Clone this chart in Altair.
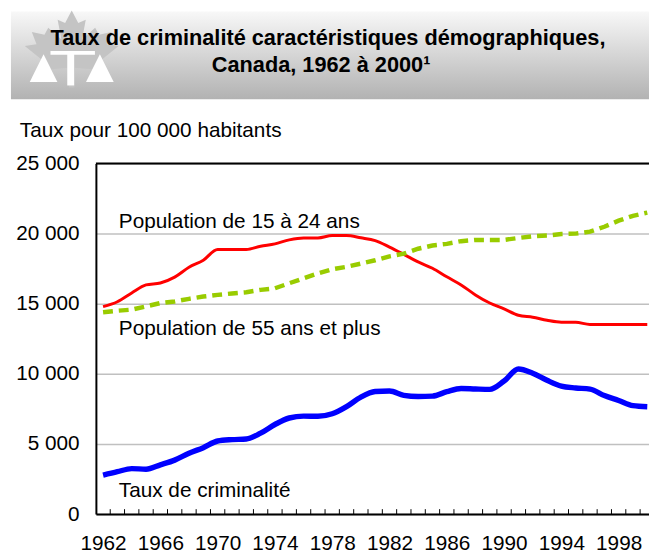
import altair as alt
import pandas as pd

# ---------------- data ----------------
years = list(range(1962, 2001))
crime_rate = [2771, 3022, 3245, 3199, 3511, 3850, 4336, 4737, 5212, 5311,
              5355, 5773, 6388, 6852, 6984, 6971, 7154, 7666, 8343, 8736,
              8773, 8470, 8387, 8413, 8727, 8957, 8919, 8892, 9485, 10342,
              10040, 9538, 9125, 8994, 8914, 8453, 8102, 7733, 7655]
pop_15_24 = [14790, 15140, 15770, 16340, 16480, 16900, 17600, 18100, 18870, 18870,
             18870, 19100, 19270, 19550, 19690, 19690, 19860, 19860, 19700, 19500,
             19040, 18520, 17980, 17530, 16920, 16340, 15630, 15050, 14630, 14180,
             14040, 13820, 13680, 13680, 13520, 13520, 13520, 13520, 13520]
pop_55_plus = [14390, 14500, 14580, 14810, 15050, 15160, 15350, 15510, 15630, 15730,
               15820, 15990, 16100, 16460, 16810, 17160, 17460, 17630, 17860, 18100,
               18380, 18570, 18920, 19150, 19270, 19460, 19550, 19550, 19550, 19690,
               19810, 19860, 19970, 20000, 20140, 20490, 20920, 21270, 21500]
x_label_years = [1962, 1966, 1970, 1974, 1978, 1982, 1986, 1990, 1994, 1998]
y_ticks = [0, 5000, 10000, 15000, 20000, 25000]
title_line1 = "Taux de criminalité caractéristiques démographiques,"
title_line2 = "Canada, 1962 à 2000¹"
y_title = "Taux pour 100 000 habitants"
label_15_24 = "Population de 15 à 24 ans"
label_55 = "Population de 55 ans et plus"
label_crime = "Taux de criminalité"

df = pd.DataFrame({"year": years, "crime": crime_rate,
                   "p15": pop_15_24, "p55": pop_55_plus})
bounds = pd.DataFrame({"year": [y + 0.5 for y in years[:-1]]})

FONT = "Liberation Sans"
TFONT = "Liberation Sans"
FS = 21

xs = alt.Scale(domain=[1961.5, 2000.12], nice=False, zero=False)
ys = alt.Scale(domain=[0, 25000], nice=False)

x_axis = alt.Axis(values=x_label_years, format="d", grid=False, ticks=False, tickSize=0,
                  labelFontSize=FS, labelFont=FONT, labelColor="black",
                  labelPadding=36, labelBaseline="alphabetic",
                  domainColor="black", domainWidth=2, title=None, labelFlush=False,
                  labelOverlap=False)
y_axis = alt.Axis(values=y_ticks, labelExpr="replace(format(datum.value, ','), ',', ' ')",
                  grid=True, gridColor="#c0c0c0", gridWidth=1.5, ticks=False, tickSize=0,
                  labelFontSize=FS, labelFont=FONT, labelColor="black", labelPadding=17,
                  domainColor="black", domainWidth=2, title=None)

base = alt.Chart(df)

red = base.mark_line(color="#ff0000", strokeWidth=3, interpolate="monotone").encode(
    x=alt.X("year:Q", scale=xs, axis=x_axis),
    y=alt.Y("p15:Q", scale=ys, axis=y_axis),
)
green = base.mark_line(color="#99cc00", strokeWidth=4.5, strokeDash=[10, 6]).encode(
    x=alt.X("year:Q", scale=xs),
    y=alt.Y("p55:Q", scale=ys),
)
blue = base.mark_line(color="#0000ff", strokeWidth=5.5, interpolate="monotone").encode(
    x=alt.X("year:Q", scale=xs),
    y=alt.Y("crime:Q", scale=ys),
)

ticks = alt.Chart(bounds).mark_rule(color="black", strokeWidth=1).encode(
    x=alt.X("year:Q", scale=xs),
    y=alt.value(355), y2=alt.value(350),
)

one = alt.Data(values=[{}])

top_border = alt.Chart(one).mark_rule(color="black", strokeWidth=2).encode(
    x=alt.value(0), x2=alt.value(560), y=alt.value(0)
)


def ann(text, xv, yv):
    return alt.Chart(one).mark_text(text=text, font=FONT, fontSize=FS, color="black",
                                    align="left", baseline="alphabetic").encode(
        x=alt.datum(xv, scale=xs), y=alt.datum(yv, scale=ys))


a1 = ann(label_15_24, 1963.1, 20400)
a2 = ann(label_55, 1963.1, 12800)
a3 = ann(label_crime, 1963.1, 1200)

# ---- banner ----
banner = alt.Chart(one).mark_rect(
    color=alt.Gradient(gradient="linear",
                       stops=[alt.GradientStop(color="#f8f8f8", offset=0),
                              alt.GradientStop(color="#b2b2b2", offset=1)],
                       x1=0, x2=0, y1=0, y2=1)
).encode(x=alt.value(-86), x2=alt.value(560), y=alt.value(-154), y2=alt.value(-65))

leaf_path = ("M0,-0.82L0.14,-0.55L0.3,-0.62L0.22,-0.2L0.5,-0.45L0.58,-0.3L0.85,-0.36"
             "L0.75,-0.1L1,-0.06L0.55,0.3L0.62,0.45L0.06,0.4L0.06,0.82L-0.06,0.82"
             "L-0.06,0.4L-0.62,0.45L-0.55,0.3L-1,-0.06L-0.75,-0.1L-0.85,-0.36"
             "L-0.58,-0.3L-0.5,-0.45L-0.22,-0.2L-0.3,-0.62L-0.14,-0.55Z")
leaf = alt.Chart(one).mark_point(shape=leaf_path, filled=True, color="#c4c4c4",
                                 opacity=1, size=9025, strokeWidth=0).encode(
    x=alt.value(-24.5), y=alt.value(-116))

tri_path = "M0,-1L1,1L-1,1Z"
tri_l = alt.Chart(one).mark_point(shape=tri_path, filled=True, color="white", opacity=1,
                                  size=784, strokeWidth=0).encode(
    x=alt.value(-53), y=alt.value(-96.5))
tri_r = alt.Chart(one).mark_point(shape=tri_path, filled=True, color="white", opacity=1,
                                  size=784, strokeWidth=0).encode(
    x=alt.value(4), y=alt.value(-96.5))
t_bar = alt.Chart(one).mark_rect(color="white").encode(
    x=alt.value(-46), x2=alt.value(-1), y=alt.value(-114), y2=alt.value(-110))
t_stem = alt.Chart(one).mark_rect(color="white").encode(
    x=alt.value(-29), x2=alt.value(-22), y=alt.value(-112), y2=alt.value(-79))


def ttext(text, xv, yv):
    return alt.Chart(one).mark_text(text=text, font=TFONT, fontSize=22, fontWeight="bold",
                                    color="black", align="center",
                                    baseline="alphabetic").encode(
        x=alt.value(xv), y=alt.value(yv))


t1 = ttext(title_line1, 235, -120)
t2 = ttext(title_line2, 228, -93)

ytitle = alt.Chart(one).mark_text(text=y_title, font=FONT, fontSize=FS, color="black",
                                  align="left", baseline="alphabetic").encode(
    x=alt.value(-77), y=alt.value(-27))

chart = alt.layer(
    red, green, blue, ticks, top_border, a1, a2, a3,
    banner, leaf, tri_l, tri_r, t_bar, t_stem, t1, t2, ytitle,
).properties(
    width=560, height=355,
    autosize=alt.AutoSizeParams(type="none"),
    padding={"left": 89, "top": 154, "right": 0, "bottom": 39},
    background="white",
).configure_view(stroke=None)

chart.save("out.html", embed_options={"renderer": "svg", "actions": False})
